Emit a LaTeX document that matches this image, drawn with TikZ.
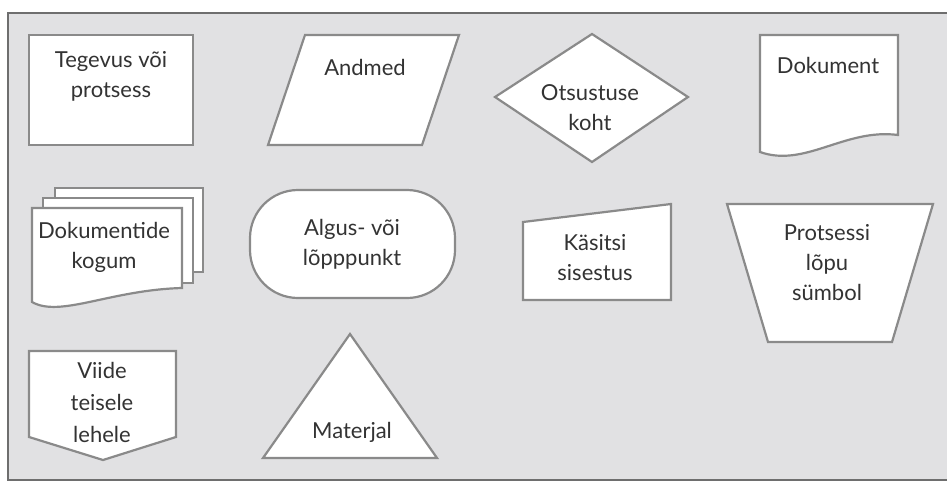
\documentclass[tikz,border=0pt]{standalone}
\usepackage{fontspec}
\setmainfont{Lato}
\begin{document}
\begin{tikzpicture}[x=1pt,y=-1pt,
  shapeline/.style={draw=shapegray,line width=2.2pt,fill=white,line join=miter},
  label/.style={anchor=base,align=center,text=textgray,inner sep=0pt,
    font=\fontsize{22}{30}\selectfont}]
\definecolor{shapegray}{HTML}{8A8A8A}
\definecolor{framegray}{HTML}{6E6E6E}
\definecolor{panel}{HTML}{E1E1E3}
\definecolor{textgray}{HTML}{333333}
\useasboundingbox (0,0) rectangle (947,482);
\fill[white] (0,0) rectangle (947,482);
% grey panel, open to the right
\draw[draw=framegray,fill=panel,line width=2pt] (960,13) -- (8,13) -- (8,480) -- (960,480);

% labels are anchored at the baseline of their last line

% process box
\draw[shapeline] (29,35) rectangle (193,145);
\node[label] (tproc) at (111,97) {Tegevus või\\protsess};

% data parallelogram
\draw[shapeline] (305,35) -- (459,35) -- (422,145) -- (268,145) -- cycle;
\node[label] (tdata) at (365,75) {Andmed};

% decision diamond
\draw[shapeline] (495,97) -- (592,34) -- (688,97) -- (592,162) -- cycle;
\node[label] (tdec) at (590,130) {Otsustuse\\koht};

% document
\draw[shapeline] (760,152) -- (760,35) -- (898,35) -- (898,135)
  .. controls (845,128) and (805,168) .. (760,152) -- cycle;
\node[label] (tdoc) at (828,73) {Dokument};

% stack of documents
\draw[shapeline] (55,188) rectangle (203,272);
\draw[shapeline] (43,198) rectangle (193,283);
\draw[shapeline] (32,302) -- (32,208) -- (182,208) -- (182,288)
  .. controls (110,290) and (60,318) .. (32,302) -- cycle;
\node[label] (tstack) at (104,268) {Dokumentide\\kogum};

% terminator
\draw[shapeline,rounded corners=48pt] (250,190) rectangle (455,298);
\node[label] (tterm) at (352,265) {Algus- või\\lõpppunkt};

% manual input
\draw[shapeline] (523,222) -- (671,204) -- (671,300) -- (523,300) -- cycle;
\node[label] (tman) at (595,280) {Käsitsi\\sisestus};

% end of process trapezoid
\draw[shapeline] (727,204) -- (933,204) -- (892,342) -- (768,342) -- cycle;
\node[label] (tend) at (827,300) {Protsessi\\lõpu\\sümbol};

% off-page reference
\draw[shapeline] (29,351) -- (176,351) -- (176,437) -- (103,460) -- (29,437) -- cycle;
\node[label,font=\fontsize{22}{32}\selectfont] (toff) at (102,442) {Viide\\teisele\\lehele};

% material triangle
\draw[shapeline] (350,334) -- (437,458) -- (263,458) -- cycle;
\node[label] (tmat) at (352,438) {Materjal};
\end{tikzpicture}
\end{document}
